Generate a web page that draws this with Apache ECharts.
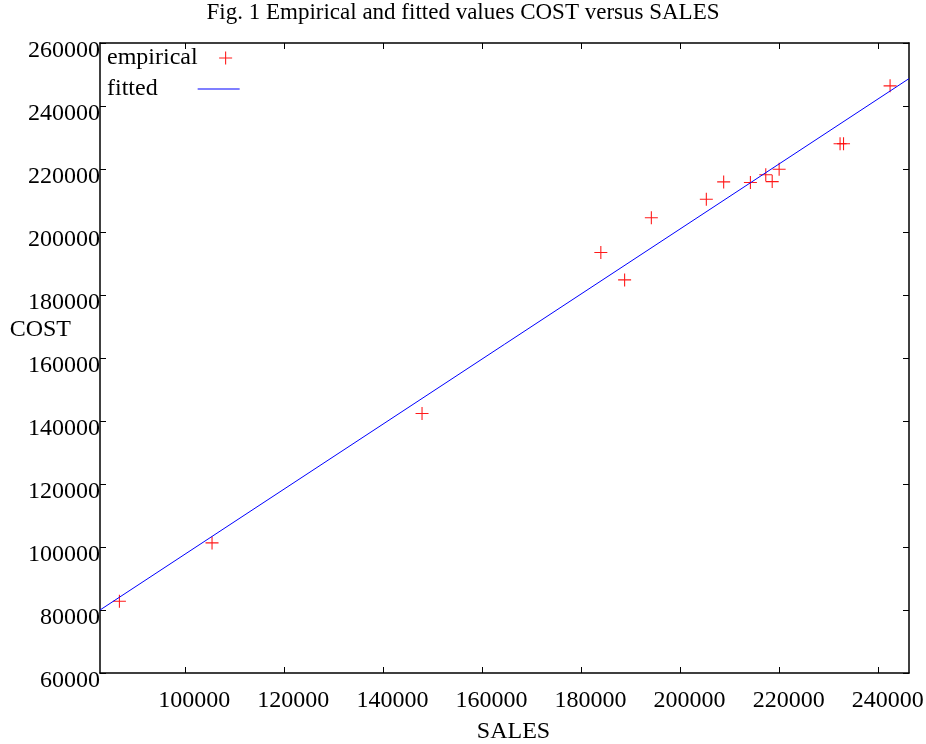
<!DOCTYPE html>
<html>
<head>
<meta charset="utf-8">
<script src="https://cdn.jsdelivr.net/npm/echarts@6/dist/echarts.min.js"></script>
<style>
html,body{margin:0;padding:0;background:#fff;}
#chart{width:926px;height:744px;}
</style>
</head>
<body>
<div id="chart"></div>
<script>
// ---- data ----
const titleText = 'Fig. 1 Empirical and fitted values COST versus SALES';
const xName = 'SALES';
const yName = 'COST';
const salesX = [86700, 105400, 147800, 183900, 188700, 194100, 205200, 208700, 214100, 217200, 218500, 219900, 232200, 232900, 242300];
const costY  = [82800, 101300, 142400, 193500, 184800, 204500, 210400, 215900, 215700, 218200, 216000, 219900, 228000, 228000, 246400];
const fitX = [82780, 246120];
const fitY = [80000, 248700];
const xTicks = [100000, 120000, 140000, 160000, 180000, 200000, 220000, 240000];
const yTicks = [60000, 80000, 100000, 120000, 140000, 160000, 180000, 200000, 220000, 240000, 260000];
const xRange = [82780, 246120];
const yRange = [60000, 260000];

const FONT = 'Liberation Serif';
const plus = 'path://M0,5.5H12V6.5H0Z M5.5,0H6.5V12H5.5Z';
const dash = 'path://M0,0H42V1H0Z';

const empirical = salesX.map((x, i) => [x, costY[i]]);
const fitted = fitX.map((x, i) => [x, fitY[i]]);

const chart = echarts.init(document.getElementById('chart'), null, {renderer: 'canvas'});
const lineStyle = {color: '#000', width: 1.5};
const plain = v => String(v);
const baseX = {
  type: 'value', min: xRange[0], max: xRange[1],
  axisLine: {show: true, onZero: false, lineStyle: lineStyle},
  axisTick: {show: true, inside: true, length: 6, lineStyle: {color: '#000', width: 1}, customValues: xTicks},
  splitLine: {show: false}
};
const baseY = {
  type: 'value', min: yRange[0], max: yRange[1], interval: 20000,
  axisLine: {show: true, onZero: false, lineStyle: lineStyle},
  axisTick: {show: true, inside: true, length: 6, lineStyle: {color: '#000', width: 1}, customValues: yTicks},
  splitLine: {show: false}
};
chart.setOption({
  animation: false,
  backgroundColor: '#fff',
  textStyle: {fontFamily: FONT, color: '#000'},
  title: {
    text: titleText, left: 'center', top: 1, padding: 0,
    textStyle: {fontFamily: FONT, fontSize: 23, fontWeight: 'normal', color: '#000'}
  },
  legend: [
    {
      data: [{name: 'empirical', icon: plus}], left: 107, top: 46, padding: 0, orient: 'vertical', align: 'right',
      itemWidth: 46, itemHeight: 13, symbolKeepAspect: true,
      textStyle: {fontFamily: FONT, fontSize: 24, color: '#000'}
    },
    {
      data: [{name: 'fitted', icon: dash}], left: 107, top: 77, padding: 0, orient: 'vertical', align: 'right',
      itemWidth: 42, itemHeight: 14, symbolKeepAspect: true,
      textStyle: {fontFamily: FONT, fontSize: 24, color: '#000', padding: [0, 35, 0, 0]}
    }
  ],
  grid: {left: 100, right: 17, top: 43, bottom: 71, containLabel: false, outerBoundsMode: 'none'},
  xAxis: [
    Object.assign({}, baseX, {
      position: 'bottom',
      name: xName, nameLocation: 'middle', nameGap: 47, nameMoveOverlap: false,
      nameTextStyle: {fontFamily: FONT, fontSize: 24, color: '#000', padding: [0, 0, 0, 18]},
      axisLabel: {show: true, customValues: xTicks, formatter: plain, fontFamily: FONT, fontSize: 24, color: '#000', margin: 16, padding: [0, 0, 0, 18]}
    }),
    Object.assign({}, baseX, {position: 'top', axisLabel: {show: false}})
  ],
  yAxis: [
    Object.assign({}, baseY, {
      position: 'left',
      name: yName, nameLocation: 'middle', nameRotate: 0, nameGap: 29, nameMoveOverlap: false,
      nameTextStyle: {fontFamily: FONT, fontSize: 24, color: '#000', verticalAlign: 'bottom', lineHeight: 56},
      axisLabel: {show: true, customValues: yTicks, formatter: plain, fontFamily: FONT, fontSize: 24, color: '#000', margin: 0, verticalAlign: 'top', lineHeight: 16}
    }),
    Object.assign({}, baseY, {position: 'right', axisLabel: {show: false}})
  ],
  series: [
    {
      name: 'empirical', type: 'scatter', data: empirical,
      symbol: plus, symbolSize: 13, symbolKeepAspect: true,
      itemStyle: {color: '#ff0000', opacity: 0.9}
    },
    {
      name: 'fitted', type: 'line', data: fitted, symbol: 'none', clip: true,
      lineStyle: {color: '#0000ff', width: 1}, itemStyle: {color: '#0000ff'}
    }
  ]
});
</script>
</body>
</html>
